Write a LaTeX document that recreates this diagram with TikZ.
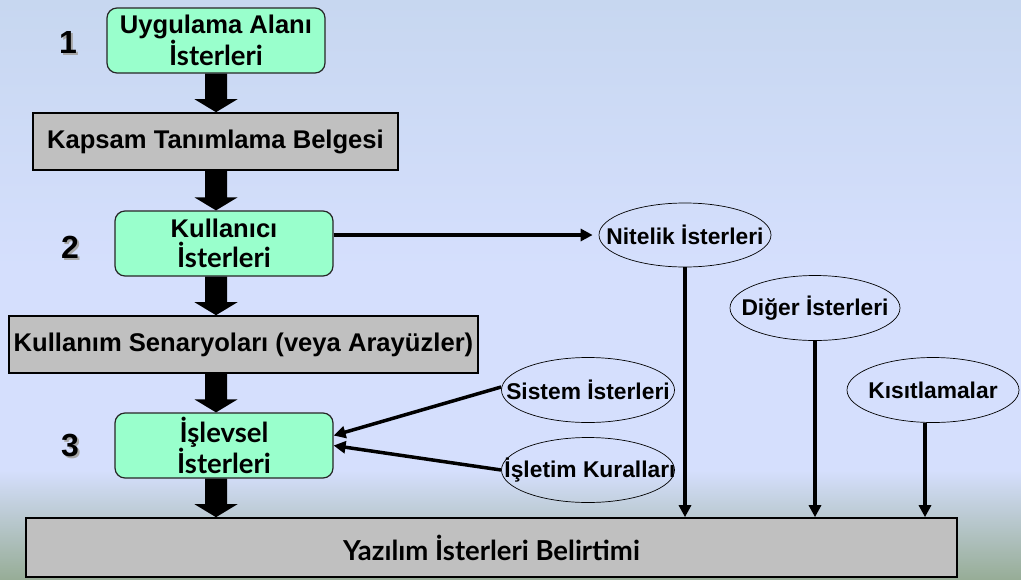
\documentclass[tikz,border=0pt]{standalone}
\usepackage{fontspec}
\setmainfont{Liberation Sans}
\newfontfamily\latofam{Lato}
\newcommand\lato{\latofam\fontsize{27.5}{30}\selectfont}
\usetikzlibrary{shapes.geometric,arrows.meta,calc}
\definecolor{bgtop}{HTML}{C7D7F0}
\definecolor{bgmid}{HTML}{D5DFFD}
\definecolor{bgbot}{HTML}{97AD97}
\definecolor{mint}{HTML}{99FFCC}
\definecolor{boxgray}{HTML}{C0C0C0}
\pgfdeclareverticalshading{bgshade}{100bp}{color(0bp)=(bgbot); color(25bp)=(bgbot); color(34.4bp)=(bgmid); color(51.7bp)=(bgmid); color(75bp)=(bgtop); color(100bp)=(bgtop)}
\newcommand\blockarrow[2]{%
  \fill let \p1=(#1.south -| ax), \p2=(#2.north -| ax) in
    (\x1-11pt,\y1) -- (\x1+11pt,\y1) -- (\x1+11pt,\y2+13pt) -- (\x1+21.5pt,\y2+13pt)
    -- (\x1,\y2) -- (\x1-21.5pt,\y2+13pt) -- (\x1-11pt,\y2+13pt) -- cycle;}
\tikzset{
  greenbox/.style={draw=black!85, line width=1.2pt, fill=mint, rounded corners=10pt,
    minimum width=218pt, minimum height=65pt, inner sep=0pt, align=center,
    font=\fontsize{25.6}{30}\selectfont\bfseries},
  graybox/.style={draw=black, line width=1.6pt, fill=boxgray, inner sep=0pt,
    font=\fontsize{25.6}{30}\selectfont\bfseries},
  oval/.style={ellipse, draw=black, line width=0.7pt, minimum width=172pt,
    minimum height=64pt, inner sep=0pt, font=\fontsize{22.8}{27}\selectfont\bfseries},
  num/.style={font=\fontsize{32}{32}\selectfont\bfseries, inner sep=0pt},
  numshadow/.style={num, text=black!35},
  conn/.style={line width=3.5pt, -{Triangle[length=12pt,width=12pt]}}
}
\begin{document}
\begin{tikzpicture}[x=1pt,y=-1pt]
\useasboundingbox (0,0) rectangle (1021,579);
\shade[shading=bgshade] (0,0) rectangle (1021,579);
\coordinate (ax) at (216,0);
% boxes
\node[greenbox] (b1) at (216,40.5) {Uygulama Alanı\\{\lato İsterleri}};
\node[graybox, minimum width=365pt, minimum height=57pt] (b2) at (215.5,141.5) {Kapsam Tanımlama Belgesi};
\node[greenbox] (b3) at (224,243.5) {Kullanıcı\\{\lato İsterleri}};
\node[graybox, minimum width=469pt, minimum height=57pt] (b4) at (243.5,344.5) {Kullanım Senaryoları (veya Arayüzler)};
\node[greenbox] (b5) at (224,445.5) {{\lato İşlevsel}\\{\lato İsterleri}};
\node[graybox, minimum width=931pt, minimum height=59pt] (b6) at (491.5,547.5) {\lato Yazılım İsterleri Belirtimi};
% numbers
\node[numshadow] at (70,44) {1};
\node[num] (n1) at (68,42) {1};
\node[numshadow] at (72,249) {2};
\node[num] (n2) at (70,247) {2};
\node[numshadow] at (72,448) {3};
\node[num] (n3) at (70,446) {3};
% ellipses
\node[oval] (nit) at (685,235) {\makebox[0pt]{Nitelik İsterleri}};
\node[oval, minimum width=170pt, minimum height=65pt] (dig) at (815,308) {\makebox[0pt]{Diğer İsterleri}};
\node[oval, minimum width=173pt, minimum height=65pt] (sis) at (588,390) {\makebox[0pt]{Sistem İsterleri}};
\node[oval, minimum width=173pt, minimum height=65pt] (isl) at (588,470) {\makebox[0pt]{\hspace{4pt}İşletim Kuralları}};
\node[oval, minimum width=172pt, minimum height=65pt] (kis) at (933,390) {\makebox[0pt]{Kısıtlamalar}};
% block arrows
\blockarrow{b1}{b2}
\blockarrow{b2}{b3}
\blockarrow{b3}{b4}
\blockarrow{b4}{b5}
\blockarrow{b5}{b6}
% connectors
\draw[conn, shorten >=6pt] (b3.east |- nit.west) -- (nit.west);
\draw[conn] (nit.south) -- (nit.south |- b6.north);
\draw[conn] (dig.south) -- (dig.south |- b6.north);
\coordinate (kisb) at ($(kis.south)+(-8,0)$);
\draw[conn] (kisb) -- (kisb |- b6.north);
\draw[conn] ($(sis.west)+(0,-3)$) -- ($(b5.east)+(0,-10)$);
\draw[conn] (isl.west) -- (b5.east);
\end{tikzpicture}
\end{document}
